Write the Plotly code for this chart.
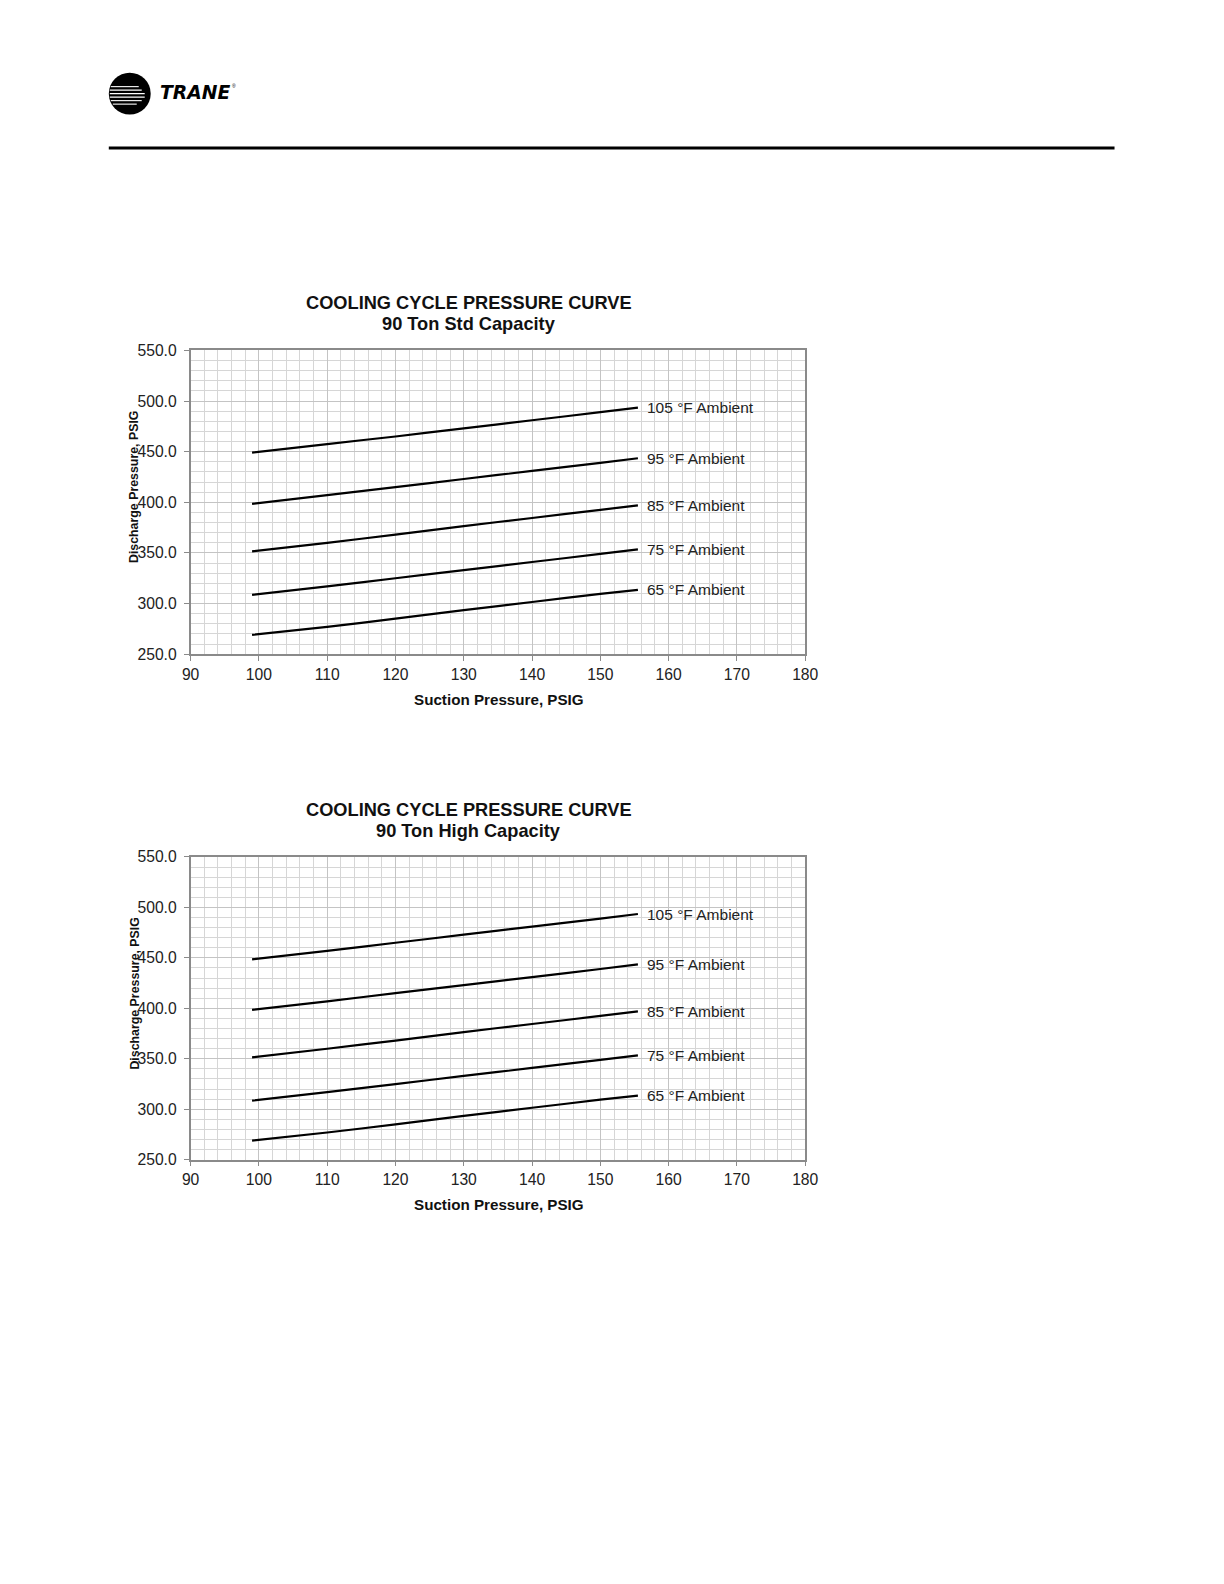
import plotly.graph_objects as go

# ---- data ----
suction = [99, 110, 120, 130, 140, 150, 155.5]
ambient_labels = ["105 °F Ambient", "95 °F Ambient", "85 °F Ambient", "75 °F Ambient", "65 °F Ambient"]
std_105 = [449.0, 457.5, 465.0, 473.0, 481.0, 489.0, 493.5]
std_95 = [398.5, 407.0, 415.0, 423.0, 431.0, 439.0, 443.5]
std_85 = [351.5, 360.0, 368.0, 376.5, 384.5, 392.5, 397.0]
std_75 = [308.5, 317.0, 325.0, 333.0, 341.0, 349.0, 353.5]
std_65 = [269.0, 277.0, 285.0, 293.5, 301.5, 309.5, 313.5]
high_105 = [448.5, 457.0, 465.0, 473.0, 481.0, 489.0, 493.5]
high_95 = [398.5, 407.0, 415.0, 423.0, 431.0, 439.0, 443.5]
high_85 = [351.5, 360.0, 368.0, 376.5, 384.5, 392.5, 397.0]
high_75 = [308.5, 317.0, 325.0, 333.0, 341.0, 349.0, 353.5]
high_65 = [269.0, 277.0, 285.0, 293.5, 301.5, 309.5, 313.5]
x_range = [90, 180]
y_range = [250, 550]
titles = [("COOLING CYCLE PRESSURE CURVE", "90 Ton Std Capacity"),
          ("COOLING CYCLE PRESSURE CURVE", "90 Ton High Capacity")]

W, H = 1208, 1568
FONT = "Liberation Sans, Arial, sans-serif"
# empirical page transform: shown = scale * figure_px + offset
SX, OX = 0.984, 16.0
SY, OY = 0.990, 16.3
FS = 1.0 / 0.987  # font compensation

fig = go.Figure()

series_sets = [[std_105, std_95, std_85, std_75, std_65],
               [high_105, high_95, high_85, high_75, high_65]]

# plot areas in target page pixels
areas = [dict(l=190, r=806, t=350, b=654), dict(l=190, r=806, t=857, b=1160)]


def px_x(p):
    return ((p - OX) / SX) / W


def px_y(p):
    return 1 - ((p - OY) / SY) / H


def fs(s):
    return s * FS


for i, (series, area) in enumerate(zip(series_sets, areas)):
    xa = "x" if i == 0 else "x2"
    ya = "y" if i == 0 else "y2"
    for vals, lab in zip(series, ambient_labels):
        fig.add_trace(go.Scatter(x=suction, y=vals, mode="lines",
                                 line=dict(color="black", width=2.2, shape="spline", smoothing=0.3),
                                 xaxis=xa, yaxis=ya, showlegend=False, hoverinfo="skip"))
        fig.add_annotation(x=suction[-1], y=vals[-1], xref=xa, yref=ya, text=lab,
                           showarrow=False, xanchor="left", xshift=7, yanchor="middle",
                           font=dict(family=FONT, size=fs(15.3), color="#222"))
    axis_common = dict(showline=True, linecolor="#8a8a8a", linewidth=1.5, mirror=True,
                       ticks="outside", ticklen=5, tickcolor="#8a8a8a", tickwidth=1.2,
                       showgrid=True, gridcolor="#c4c4c4", gridwidth=1,
                       zeroline=False, tickfont=dict(family=FONT, size=fs(15.5), color="#222"))
    xaxis = dict(axis_common, range=x_range, dtick=10, tick0=90,
                 domain=[px_x(area["l"]), px_x(area["r"])],
                 anchor=ya, ticklabelstandoff=0,
                 minor=dict(dtick=2, showgrid=True, gridcolor="#d6d6d6", gridwidth=1, ticks=""))
    yaxis = dict(axis_common, range=y_range, dtick=50, tick0=250, tickformat=".1f",
                 domain=[px_y(area["b"]), px_y(area["t"])],
                 anchor=xa, ticklabelstandoff=4,
                 minor=dict(dtick=10, showgrid=True, gridcolor="#d6d6d6", gridwidth=1, ticks=""))
    if i == 0:
        fig.update_layout(xaxis=xaxis, yaxis=yaxis)
    else:
        fig.update_layout(xaxis2=xaxis, yaxis2=yaxis)

    # titles
    t1, t2 = titles[i]
    fig.add_annotation(x=px_x(469), y=px_y(area["t"] - 48), xref="paper", yref="paper",
                       text=f"<b>{t1}</b>", showarrow=False, xanchor="center", yanchor="middle",
                       font=dict(family=FONT, size=fs(18), color="#111"))
    fig.add_annotation(x=px_x(469), y=px_y(area["t"] - 27), xref="paper", yref="paper",
                       text=f"<b>{t2}</b>", showarrow=False, xanchor="center", yanchor="middle",
                       font=dict(family=FONT, size=fs(18), color="#111"))
    # axis titles
    fig.add_annotation(x=px_x(499), y=px_y(area["b"] + 45), xref="paper", yref="paper",
                       text="<b>Suction Pressure, PSIG</b>", showarrow=False,
                       xanchor="center", yanchor="middle",
                       font=dict(family=FONT, size=fs(15), color="#111"))
    fig.add_annotation(x=px_x(134), y=px_y(area["t"] + 136), xref="paper", yref="paper",
                       text="<b>Discharge Pressure, PSIG</b>", showarrow=False, textangle=-90,
                       xanchor="center", yanchor="middle",
                       font=dict(family=FONT, size=fs(12.2), color="#111"))

# ---- header: logo + rule ----
shapes = []
shapes.append(dict(type="circle", xref="paper", yref="paper",
                   x0=px_x(108), x1=px_x(150), y0=px_y(114), y1=px_y(72),
                   fillcolor="black", line=dict(color="black", width=0)))
stripe_rows = [86, 89.5, 93, 96.5, 100, 103.5]
stripe_x = [(110, 138), (109, 141), (109, 144), (109, 144), (110, 141), (112, 136)]
for yy, (a, b) in zip(stripe_rows, stripe_x):
    shapes.append(dict(type="line", xref="paper", yref="paper",
                       x0=px_x(a), x1=px_x(b), y0=px_y(yy), y1=px_y(yy),
                       line=dict(color="white", width=1.1)))
shapes.append(dict(type="line", xref="paper", yref="paper",
                   x0=px_x(108), x1=px_x(1116), y0=px_y(147.5), y1=px_y(147.5),
                   line=dict(color="black", width=3)))
fig.add_annotation(x=px_x(157), y=px_y(92), xref="paper", yref="paper",
                   text="<b><i>TRANE</i></b>", showarrow=False, xanchor="left", yanchor="middle",
                   font=dict(family="DejaVu Sans, sans-serif", size=fs(18.5), color="black"))
fig.add_annotation(x=px_x(229), y=px_y(85), xref="paper", yref="paper",
                   text="®", showarrow=False, xanchor="left", yanchor="middle",
                   font=dict(family=FONT, size=5, color="black"))

fig.update_layout(width=W, height=H, margin=dict(l=0, r=0, t=0, b=0),
                  paper_bgcolor="white", plot_bgcolor="white", shapes=shapes,
                  font=dict(family=FONT))

fig.write_html("out.html")
